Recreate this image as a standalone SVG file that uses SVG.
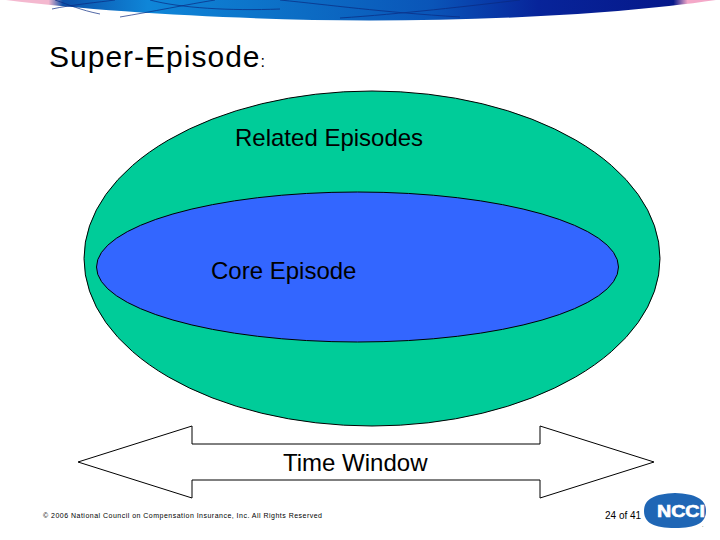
<svg xmlns="http://www.w3.org/2000/svg" width="720" height="540" viewBox="0 0 720 540">
<style>
text{font-family:"Liberation Sans",Arial,sans-serif;fill:#000}
.s{stroke:#000;stroke-width:1}
.l{font-size:24px}
</style>
<defs>
<linearGradient id="b" x1="0" x2="1" y1="0" y2="0">
<stop offset="0" stop-color="#f4b8cf"/><stop offset=".06" stop-color="#f4b8cf"/><stop offset=".08" stop-color="#0b4fa8"/><stop offset=".2" stop-color="#0f86d8"/><stop offset=".42" stop-color="#0c6cc4"/><stop offset=".6" stop-color="#0a55b8"/><stop offset=".75" stop-color="#07249a"/><stop offset=".94" stop-color="#06188a"/><stop offset=".96" stop-color="#f4a8c8"/><stop offset="1" stop-color="#f4a8c8"/>
</linearGradient>
</defs>
<rect width="720" height="540" fill="#fff"/>
<path id="banner" d="M6 0C110 13 250 20 370 20.500C490 20.500 620 14 716 0Z" fill="url(#b)"/>
<g fill="none" stroke="#0a2a80" stroke-width="1" opacity=".7">
<path d="M55 0C70 5 80 10 100 14M52 9C70 5 100 2 115 0M120 17C150 12 190 4 215 0M150 0C180 8 230 11 280 9"/>
<path d="M280 0C330 5 380 12 460 17M340 18C400 14 470 6 520 0"/>
</g>
<text id="title" x="49" y="67" font-size="30" textLength="216">Super-Episode<tspan font-size="16">:</tspan></text>
<g id="related-episodes">
<ellipse cx="372" cy="258.500" rx="288" ry="167.500" fill="#00cc99" class="s"/>
<text class="l" x="235" y="146">Related Episodes</text>
</g>
<g id="core-episode">
<ellipse cx="357.500" cy="267" rx="261" ry="75" fill="#3366ff" class="s"/>
<text class="l" x="211" y="279">Core Episode</text>
</g>
<g id="time-window">
<path d="M78 462L192 426V444H540V426L654 462L540 498V480H192V498Z" fill="#fff" class="s"/>
<text class="l" x="283" y="471">Time Window</text>
</g>
<g id="footer">
<text x="43" y="518" font-size="7" textLength="279">© 2006 National Council on Compensation Insurance, Inc. All Rights Reserved</text>
<text x="605" y="519" font-size="10">24 of 41</text>
</g>
<g id="logo">
<path d="M644 511C644 499 654 494 675 493C696 494 706 499 706 511C706 523 696 528 675 528C654 528 644 523 644 511Z" fill="#1f66b5"/>
<text x="657" y="517" font-size="16" font-weight="bold" style="fill:#fff;stroke:#fff;stroke-width:.6" textLength="48" lengthAdjust="spacingAndGlyphs">NCCI</text>
<text x="702" y="527" font-size="5">.</text>
</g>
</svg>
